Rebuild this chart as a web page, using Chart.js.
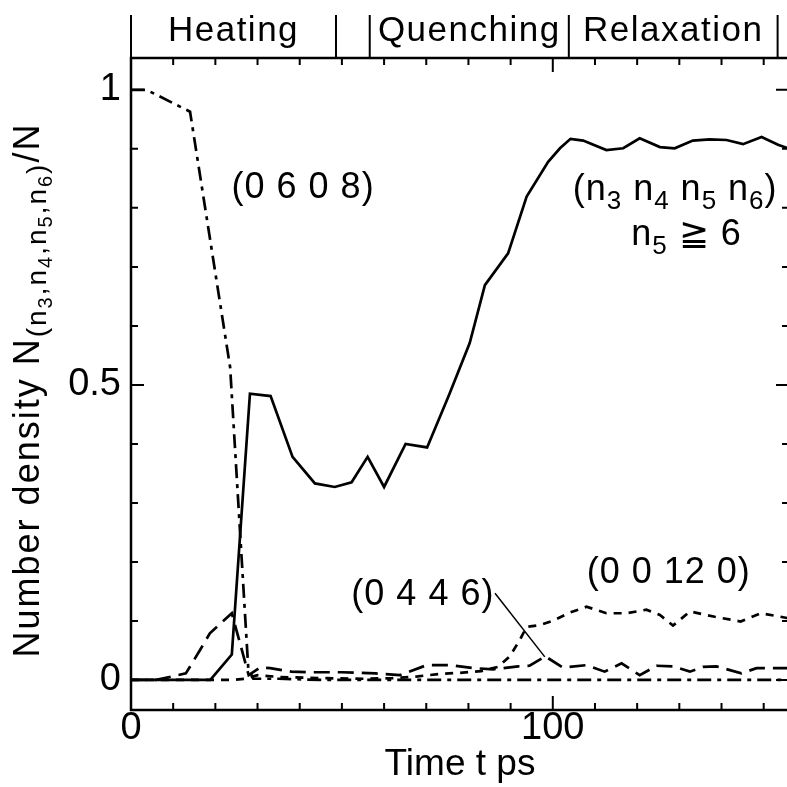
<!DOCTYPE html>
<html>
<head>
<meta charset="utf-8">
<script src="https://cdn.jsdelivr.net/npm/chart.js@4/dist/chart.umd.min.js"></script>
<style>
  html, body { margin: 0; padding: 0; background: #fff; overflow: hidden; }
  #wrap { position: relative; width: 795px; height: 787px; }
</style>
</head>
<body>
<div id="wrap"><canvas id="chart"></canvas></div>
<script>
// time in ps, number density fraction
const tSolid = [0, 18.8, 23.9, 28.2, 33.1, 38.3, 43.6, 48.3, 52.3, 56.1, 60.0, 65.1, 70.2, 75.4, 80.3, 83.9, 89.4, 93.8, 98.9, 101.7, 104.2, 107.2, 112.7, 116.7, 120.6, 125.4, 128.9, 133.2, 137.2, 141.2, 145.1, 149.5, 153.4, 157];
const nSolid = [0, 0, 0.043, 0.485, 0.481, 0.378, 0.333, 0.327, 0.335, 0.378, 0.327, 0.4, 0.394, 0.483, 0.571, 0.669, 0.723, 0.819, 0.878, 0.901, 0.917, 0.914, 0.898, 0.901, 0.918, 0.903, 0.901, 0.914, 0.916, 0.915, 0.908, 0.92, 0.907, 0.898];

const t0608 = [0, 3.7, 14, 23.5, 27.8, 29, 35, 45, 55, 65, 75, 85, 95, 105, 115, 125, 135, 145, 157];
const n0608 = [1.0, 1.0, 0.963, 0.53, 0.02, 0.002, 0.002, 0, 0, 0, 0, 0, 0, 0, 0, 0, 0, 0, 0];

const t0446 = [0, 6, 13, 16.4, 18.7, 23.9, 26.5, 27.9, 30.6, 33, 38, 43, 50, 58, 63.7, 70.1, 75.6, 81.1, 85.9, 91.8, 94.5, 98.2, 102.4, 108, 112.3, 116.3, 120.6, 124.6, 128.5, 132.5, 135.6, 138.8, 144.7, 148.3, 153, 157];
const n0446 = [0, 0, 0.011, 0.051, 0.079, 0.113, 0.045, 0.008, 0.021, 0.02, 0.014, 0.013, 0.013, 0.011, 0.008, 0.025, 0.025, 0.02, 0.018, 0.023, 0.024, 0.04, 0.021, 0.025, 0.014, 0.028, 0.008, 0.024, 0.023, 0.014, 0.022, 0.023, 0.011, 0.02, 0.02, 0.02];

const t00120 = [0, 24, 27, 30, 35, 45, 55, 62, 68, 73, 78, 83, 87, 89.8, 92.2, 93.8, 97, 100, 104, 108, 112.7, 117.5, 122.2, 125.4, 128.5, 132.5, 138.4, 144.5, 149.4, 155.5, 157];
const n00120 = [0, 0, 0.002, 0.008, 0.005, 0.003, 0.002, 0.003, 0.006, 0.01, 0.012, 0.015, 0.022, 0.04, 0.068, 0.09, 0.093, 0.1, 0.114, 0.124, 0.113, 0.113, 0.119, 0.11, 0.092, 0.116, 0.107, 0.099, 0.113, 0.105, 0.105];

const xTicks = [0, 100];
const xMinor = [10, 20, 30, 40, 50, 60, 70, 80, 90, 110, 120, 130, 140, 150];
const yTicks = [0, 0.5, 1];
const yMinor = [0.1, 0.2, 0.3, 0.4, 0.6, 0.7, 0.8, 0.9];

const phaseNames = ['Heating', 'Quenching', 'Relaxation'];
const phaseStart = [0, 56.6, 103.8];
const phaseEnd = [48.6, 103.8, 153.3];

const FONT = '"Liberation Sans", Arial, sans-serif';

const toXY = (ts, ns) => ts.map((t, i) => ({ x: t, y: ns[i] }));

function lineSet(label, ts, ns, dash) {
  return {
    label,
    data: toXY(ts, ns),
    borderColor: '#000',
    borderWidth: 2.7,
    borderDash: dash,
    pointRadius: 0,
    tension: 0,
    fill: false,
  };
}

// text with sub/superscripts: parts = [text, size, dy]
function drawRich(ctx, parts, x, y, angle, spacing) {
  ctx.save();
  ctx.translate(x, y);
  ctx.rotate(angle || 0);
  ctx.letterSpacing = (spacing || 0) + 'px';
  ctx.textBaseline = 'alphabetic';
  ctx.textAlign = 'left';
  let w = 0;
  parts.forEach(([txt, size]) => {
    ctx.font = `${size}px ${FONT}`;
    w += ctx.measureText(txt).width;
  });
  let cx = -w / 2;
  parts.forEach(([txt, size, dy]) => {
    ctx.font = `${size}px ${FONT}`;
    ctx.fillText(txt, cx, dy || 0);
    cx += ctx.measureText(txt).width;
  });
  ctx.restore();
}

const notes = [
  { parts: [['(0 6 0 8)', 36]], t: 40.8, v: 0.817 },
  { parts: [['(0 4 4 6)', 36]], t: 69.2, v: 0.127 },
  { parts: [['(0 0 12 0)', 36]], t: 127.5, v: 0.164 },
  { parts: [['(n', 36], ['3', 26, 9], [' n', 36], ['4', 26, 9], [' n', 36], ['5', 26, 9], [' n', 36], ['6', 26, 9], [')', 36]], t: 129, v: 0.814 },
  { parts: [['n', 36], ['5', 26, 9], [' \u2267 6', 36]], t: 131.7, v: 0.737 },
];

const yTitle = [
  ['Number density N', 36], ['(n', 28, 7], ['3', 20, 13], [',n', 28, 7], ['4', 20, 13],
  [',n', 28, 7], ['5', 20, 13], [',n', 28, 7], ['6', 20, 13], [')', 28, 7], ['/N', 36],
];

const decor = {
  id: 'decor',
  afterDraw(chart) {
    const { ctx, chartArea: a, scales: { x, y } } = chart;
    ctx.save();
    ctx.strokeStyle = '#000';
    ctx.fillStyle = '#000';
    ctx.lineWidth = 2.5;
    ctx.lineCap = 'butt';

    // frame
    ctx.beginPath();
    ctx.moveTo(a.left, a.bottom);
    ctx.lineTo(a.right, a.bottom);
    ctx.lineTo(a.right, a.top);
    ctx.lineTo(a.left, a.top);
    ctx.closePath();
    ctx.stroke();

    // inward ticks
    ctx.lineWidth = 2;
    const tickX = (v, len) => {
      const px = x.getPixelForValue(v);
      ctx.moveTo(px, a.bottom); ctx.lineTo(px, a.bottom - len);
      ctx.moveTo(px, a.top); ctx.lineTo(px, a.top + len);
    };
    const tickY = (v, len) => {
      const py = y.getPixelForValue(v);
      ctx.moveTo(a.left, py); ctx.lineTo(a.left + len, py);
      ctx.moveTo(a.right, py); ctx.lineTo(a.right - len, py);
    };
    ctx.beginPath();
    xMinor.forEach(v => tickX(v, 7));
    xTicks.forEach(v => tickX(v, 14));
    yMinor.forEach(v => tickY(v, 7));
    yTicks.forEach(v => tickY(v, 13));
    ctx.stroke();

    // phase bar above the frame
    ctx.lineWidth = 2;
    const edges = [...new Set([...phaseStart, ...phaseEnd])];
    ctx.beginPath();
    edges.forEach(v => {
      const px = x.getPixelForValue(v);
      ctx.moveTo(px, a.top);
      ctx.lineTo(px, a.top - 43);
    });
    ctx.stroke();
    phaseNames.forEach((name, i) => {
      const cx = x.getPixelForValue((phaseStart[i] + phaseEnd[i]) / 2);
      drawRich(ctx, [[name, 35]], cx, a.top - 17, 0, 1.5);
    });

    // curve labels
    notes.forEach(n => {
      drawRich(ctx, n.parts, x.getPixelForValue(n.t), y.getPixelForValue(n.v), 0, 1);
    });
    ctx.lineWidth = 1.5;
    ctx.beginPath();
    ctx.moveTo(x.getPixelForValue(86.3), y.getPixelForValue(0.147));
    ctx.lineTo(x.getPixelForValue(98.1), y.getPixelForValue(0.039));
    ctx.stroke();

    // y axis title
    drawRich(ctx, yTitle, 39, (a.top + a.bottom) / 2 + 6, -Math.PI / 2, 2);
    ctx.restore();
  },
};

new Chart(document.getElementById('chart'), {
  type: 'line',
  data: {
    datasets: [
      lineSet('(n3 n4 n5 n6) n5 >= 6', tSolid, nSolid, []),
      lineSet('(0 6 0 8)', t0608, n0608, [14, 6, 4, 6]),
      lineSet('(0 4 4 6)', t0446, n0446, [16, 8]),
      lineSet('(0 0 12 0)', t00120, n00120, [8, 7]),
    ],
  },
  options: {
    responsive: true,
    maintainAspectRatio: false,
    animation: false,
    layout: { padding: { top: 58, right: 6, bottom: 0, left: 0 } },
    plugins: { legend: { display: false }, tooltip: { enabled: false } },
    scales: {
      x: {
        type: 'linear',
        min: 0,
        max: 156,
        afterFit: s => { s.height = 77; },
        afterBuildTicks: s => { s.ticks = xTicks.map(v => ({ value: v })); },
        grid: { display: false },
        border: { display: false },
        ticks: { font: { family: FONT, size: 38 }, color: '#000', padding: -12, maxRotation: 0, autoSkip: false, callback: v => String(v) },
        title: { display: true, text: 'Time t ps', font: { family: FONT, size: 37 }, color: '#000', padding: 0 },
      },
      y: {
        type: 'linear',
        min: -0.051,
        max: 1.054,
        afterFit: s => { s.width = 131; },
        afterBuildTicks: s => { s.ticks = yTicks.map(v => ({ value: v })); },
        grid: { display: false },
        border: { display: false },
        ticks: { font: { family: FONT, size: 38 }, color: '#000', padding: 2, callback: v => String(v) },
      },
    },
  },
  plugins: [decor],
});
</script>
</body>
</html>
